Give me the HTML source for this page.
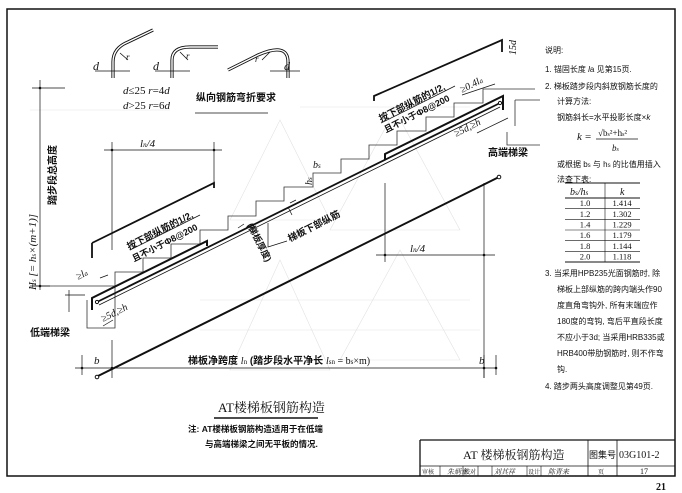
<!DOCTYPE html>
<html><head><meta charset="utf-8"><style>
html,body{margin:0;padding:0;background:#fff;}
svg{display:block;}
text{font-family:"Liberation Serif","Noto Serif CJK SC","Noto Sans CJK SC",serif;fill:#111;}
.c{font-family:"Liberation Sans","Noto Sans CJK SC",sans-serif;font-weight:bold;}
.n{font-family:"Liberation Sans","Noto Sans CJK SC",sans-serif;font-weight:normal;}
.i{font-style:italic;}
</style></head><body>
<svg width="682" height="493" viewBox="0 0 682 493" xmlns="http://www.w3.org/2000/svg">
<rect width="682" height="493" fill="#fff"/>
<path d="M7 9 H675 V476 H7 Z" fill="none" stroke="#111" stroke-width="1.5"/>

<g fill="none" stroke="#111" stroke-width="3.2">
<path d="M113 78 V62 Q113 48 128 42 L153 30"/>
<path d="M172 78 V60 Q172 47 190 47 H218"/>
<path d="M228 70 L258 55 Q288 42 288 62 V78"/>
</g>
<g fill="none" stroke="#fff" stroke-width="1.4">
<path d="M113 78 V62 Q113 48 128 42 L153 30"/>
<path d="M172 78 V60 Q172 47 190 47 H218"/>
<path d="M228 70 L258 55 Q288 42 288 62 V78"/>
</g>
<g stroke="#111" stroke-width="0.8" fill="none">
<path d="M95 71 H130 M155 71 H190 M270 71 H300"/>
<path d="M120 53 L128 60 M180 52 L188 60 M270 52 L262 60"/>
<path d="M195 113 H268"/>
</g>
<text x="93" y="70" font-size="12" class="i">d</text>
<text x="153" y="70" font-size="12" class="i">d</text>
<text x="284" y="70" font-size="12" class="i">d</text>
<text x="126" y="60" font-size="9" class="i">r</text>
<text x="186" y="59" font-size="9" class="i">r</text>
<text x="255" y="62" font-size="9" class="i">r</text>
<text x="123" y="94" font-size="11"><tspan class="i">d</tspan>≤25 <tspan class="i">r</tspan>=4<tspan class="i">d</tspan></text>
<text x="123" y="109" font-size="11"><tspan class="i">d</tspan>&gt;25 <tspan class="i">r</tspan>=6<tspan class="i">d</tspan></text>
<text x="196" y="101" font-size="10" class="c">纵向钢筋弯折要求</text>

<g stroke="#e2e2e2" stroke-width="0.6" fill="none">
<path d="M280 120 L330 220 L230 220 Z M395 110 L460 230 L330 230 Z M280 260 L330 370 L230 370 Z M400 250 L460 360 L340 360 Z"/>
<path d="M30 110 H170 M300 107 H470 M200 300 H470 M200 330 H480"/>
</g>

<path d="M32 286 H115 V272 H143 V258 H171 V244 H200 V230 H228 V216 H256 V201 H284 V187 H313 V173 H341 V159 H369 V145 H397 V131 H426 V117 H454 V103 H483 V89 H535" fill="none" stroke="#333" stroke-width="0.8"/>
<path d="M115 286 V328 H87 V300 M32 286 H30" fill="none" stroke="#333" stroke-width="0.8"/>
<path d="M515 100 H540 M515 100 V126 M507 132 V145 H540" fill="none" stroke="#333" stroke-width="0.8"/>
<path d="M96 377 L499 177" stroke="#111" stroke-width="2"/>
<circle cx="97" cy="377" r="1.8" fill="#fff" stroke="#111"/>
<circle cx="499" cy="177" r="1.8" fill="#fff" stroke="#111"/>
<path d="M97 302 L500 103" stroke="#111" stroke-width="1.8"/>
<path d="M99 305 L500 107" stroke="#111" stroke-width="0.8"/>
<circle cx="97" cy="302" r="1.6" fill="#fff" stroke="#111"/>
<circle cx="500" cy="103" r="1.6" fill="#fff" stroke="#111"/>
<path d="M92 310 V298 L207 241 V246" fill="none" stroke="#111" stroke-width="2"/>
<path d="M92 243 V258 M92 243 L214 183 V188" fill="none" stroke="#111" stroke-width="1.8"/>
<path d="M385 160 V154 L503 96 V110" fill="none" stroke="#111" stroke-width="2"/>
<path d="M374 101 V96 L502 40 V52" fill="none" stroke="#111" stroke-width="1.8"/>

<g stroke="#111" stroke-width="0.7" fill="none">
<path d="M40 80 V290 M32 88 H65 M32 286 H50"/>
<path d="M104 150 H222 M112 142 V250 M214 142 V183"/>
<path d="M376 255 H495 M385 183 V262 M484 183 V378"/>
<path d="M75 368 H495 M82 355 V375 M112 340 V378 M484 355 V378 M496 355 V375"/>
<path d="M100 278 L108 275 M69 290 V312 M65 295 H85"/>
<path d="M103 326 L113 320 M462 95 L495 84 M477 133 L508 118"/>
<path d="M290 203 L296 200 M292 215 L288 207 M238 228 L244 224"/>
<path d="M268 223 V247 L287 241 M130 250 L200 215 M381 123 L455 86"/>
</g>
<g fill="#111"><circle cx="40" cy="88" r="1.3"/><circle cx="40" cy="286" r="1.3"/><circle cx="112" cy="150" r="1.3"/><circle cx="214" cy="150" r="1.3"/><circle cx="385" cy="255" r="1.3"/><circle cx="484" cy="255" r="1.3"/><circle cx="82" cy="368" r="1.3"/><circle cx="112" cy="368" r="1.3"/><circle cx="484" cy="368" r="1.3"/><circle cx="496" cy="368" r="1.3"/></g>

<text transform="translate(36 290) rotate(-90)" font-size="11" class="i">H<tspan font-size="7">s</tspan> [= h<tspan font-size="7">s</tspan>×(m+1)]</text>
<text transform="translate(56 205) rotate(-90)" font-size="10" class="c">踏步段总高度</text>
<text x="140" y="147" font-size="11" class="i">l<tspan font-size="7">n</tspan>/4</text>
<text x="410" y="252" font-size="11" class="i">l<tspan font-size="7">n</tspan>/4</text>
<text x="94" y="364" font-size="11" class="i">b</text>
<text x="479" y="364" font-size="11" class="i">b</text>
<text x="188" y="364" font-size="10"><tspan class="c">梯板净跨度 </tspan><tspan class="i">l</tspan><tspan font-size="7">n</tspan><tspan class="c"> (踏步段水平净长 </tspan><tspan class="i">l</tspan><tspan font-size="7">sn</tspan> = b<tspan font-size="7">s</tspan>×m)</text>
<text x="30" y="336" font-size="10" class="c">低端梯梁</text>
<text x="488" y="156" font-size="10" class="c">高端梯梁</text>
<text transform="translate(129 250) rotate(-27)" font-size="9.5" class="c">按下部纵筋的1/2,</text>
<text transform="translate(134 262) rotate(-27)" font-size="9" class="c">且不小于Φ8@200</text>
<text transform="translate(381 122) rotate(-27)" font-size="9.5" class="c">按下部纵筋的1/2,</text>
<text transform="translate(386 133) rotate(-27)" font-size="9" class="c">且不小于Φ8@200</text>
<text transform="translate(290 242) rotate(-27)" font-size="9.5" class="c">梯板下部纵筋</text>
<text transform="translate(247 225) rotate(63)" font-size="9" class="c">(梯板厚度)</text>
<text transform="translate(312 185) rotate(-90)" font-size="10" class="i">h<tspan font-size="7">s</tspan></text>
<text x="313" y="168" font-size="10" class="i">b<tspan font-size="7">s</tspan></text>
<text transform="translate(78 280) rotate(-27)" font-size="10" class="i">≥l<tspan font-size="7">a</tspan></text>
<text transform="translate(103 322) rotate(-27)" font-size="10" class="i">≥5d,≥h</text>
<text transform="translate(456 137) rotate(-27)" font-size="10" class="i">≥5d,≥h</text>
<text transform="translate(462 93) rotate(-27)" font-size="10" class="i">≥0.4l<tspan font-size="7">a</tspan></text>
<text transform="translate(516 55) rotate(-90)" font-size="10" class="i">15d</text>

<g font-size="8" class="n">
<text x="545" y="53" class="n">说明:</text>
<text x="545" y="72" class="n">1. 锚固长度 <tspan class="i">l</tspan>a 见第15页.</text>
<text x="545" y="89" class="n">2. 梯板踏步段内斜放钢筋长度的</text>
<text x="557" y="104" class="n">计算方法:</text>
<text x="557" y="120" class="n">钢筋斜长=水平投影长度×<tspan class="i">k</tspan></text>
<text x="557" y="167" class="n">或根据 b<tspan font-size="6">s</tspan> 与 h<tspan font-size="6">s</tspan> 的比值用插入</text>
<text x="557" y="182" class="n">法查下表:</text>
<text x="545" y="276" class="n">3. 当采用HPB235光面钢筋时, 除</text>
<text x="557" y="292" class="n">梯板上部纵筋的跨内端头作90</text>
<text x="557" y="308" class="n">度直角弯钩外, 所有末端应作</text>
<text x="557" y="324" class="n">180度的弯钩, 弯后平直段长度</text>
<text x="557" y="340" class="n">不应小于3d; 当采用HRB335或</text>
<text x="557" y="356" class="n">HRB400带肋钢筋时, 则不作弯</text>
<text x="557" y="372" class="n">钩.</text>
<text x="545" y="389" class="n">4. 踏步两头高度调整见第49页.</text>
</g>
<text x="577" y="140" font-size="11" class="i">k</text><text x="585" y="140" font-size="11">=</text>
<text x="598" y="136" font-size="9">√b<tspan font-size="6">s</tspan>²+h<tspan font-size="6">s</tspan>²</text>
<path d="M596 139 H638" stroke="#111" stroke-width="0.7"/>
<text x="612" y="151" font-size="9" class="i">b<tspan font-size="6">s</tspan></text>
<g stroke="#111" fill="none">
<path d="M565 183 H640 M565 198 H640 M565 262 H640" stroke-width="1"/>
<path d="M565 208.7 H640 M565 219.3 H640 M565 230 H640 M565 240.7 H640 M565 251.3 H640 M605 183 V262" stroke-width="0.6"/>
</g>
<text x="570" y="195" font-size="10" class="i">b<tspan font-size="7">s</tspan>/h<tspan font-size="7">s</tspan></text>
<text x="620" y="195" font-size="10" class="i">k</text>
<g font-size="8.5" text-anchor="middle">
<text x="585" y="206">1.0</text><text x="622" y="206">1.414</text>
<text x="585" y="217">1.2</text><text x="622" y="217">1.302</text>
<text x="585" y="227.5">1.4</text><text x="622" y="227.5">1.229</text>
<text x="585" y="238">1.6</text><text x="622" y="238">1.179</text>
<text x="585" y="249">1.8</text><text x="622" y="249">1.144</text>
<text x="585" y="259.5">2.0</text><text x="622" y="259.5">1.118</text>
</g>

<text x="218" y="412" font-size="13">AT楼梯板钢筋构造</text>
<path d="M214 418 H318" stroke="#111" stroke-width="1.5"/>
<text x="188" y="432" font-size="8.5" class="c">注: AT楼梯板钢筋构造适用于在低端</text>
<text x="205" y="447" font-size="8.5" class="c">与高端梯梁之间无平板的情况.</text>

<g stroke="#111" fill="none">
<path d="M420 440 H675 M420 440 V476" stroke-width="1.3"/>
<path d="M420 466 H675 M588 440 V476 M617 440 V476" stroke-width="0.8"/>
<path d="M440 466 V476 M463 466 V476 M478 466 V476 M492 466 V476 M527 466 V476 M541 466 V476" stroke-width="0.6"/>
</g>
<text x="463" y="459" font-size="12">AT 楼梯板钢筋构造</text>
<text x="589" y="458" font-size="9" class="n">图集号</text>
<text x="619" y="458" font-size="10">03G101-2</text>
<g font-size="6" class="n">
<text x="422" y="474">审核</text><text x="464" y="474">校对</text><text x="528" y="474">设计</text>
<text x="598" y="474">页</text>
</g>
<text x="447" y="474" font-size="7" class="i">朱炳章</text>
<text x="494" y="474" font-size="7" class="i">刘其祥</text>
<text x="548" y="474" font-size="7" class="i">陈青来</text>
<text x="640" y="474" font-size="8">17</text>
<text x="656" y="490" font-size="10" font-weight="bold">21</text>
</svg>
</body></html>
